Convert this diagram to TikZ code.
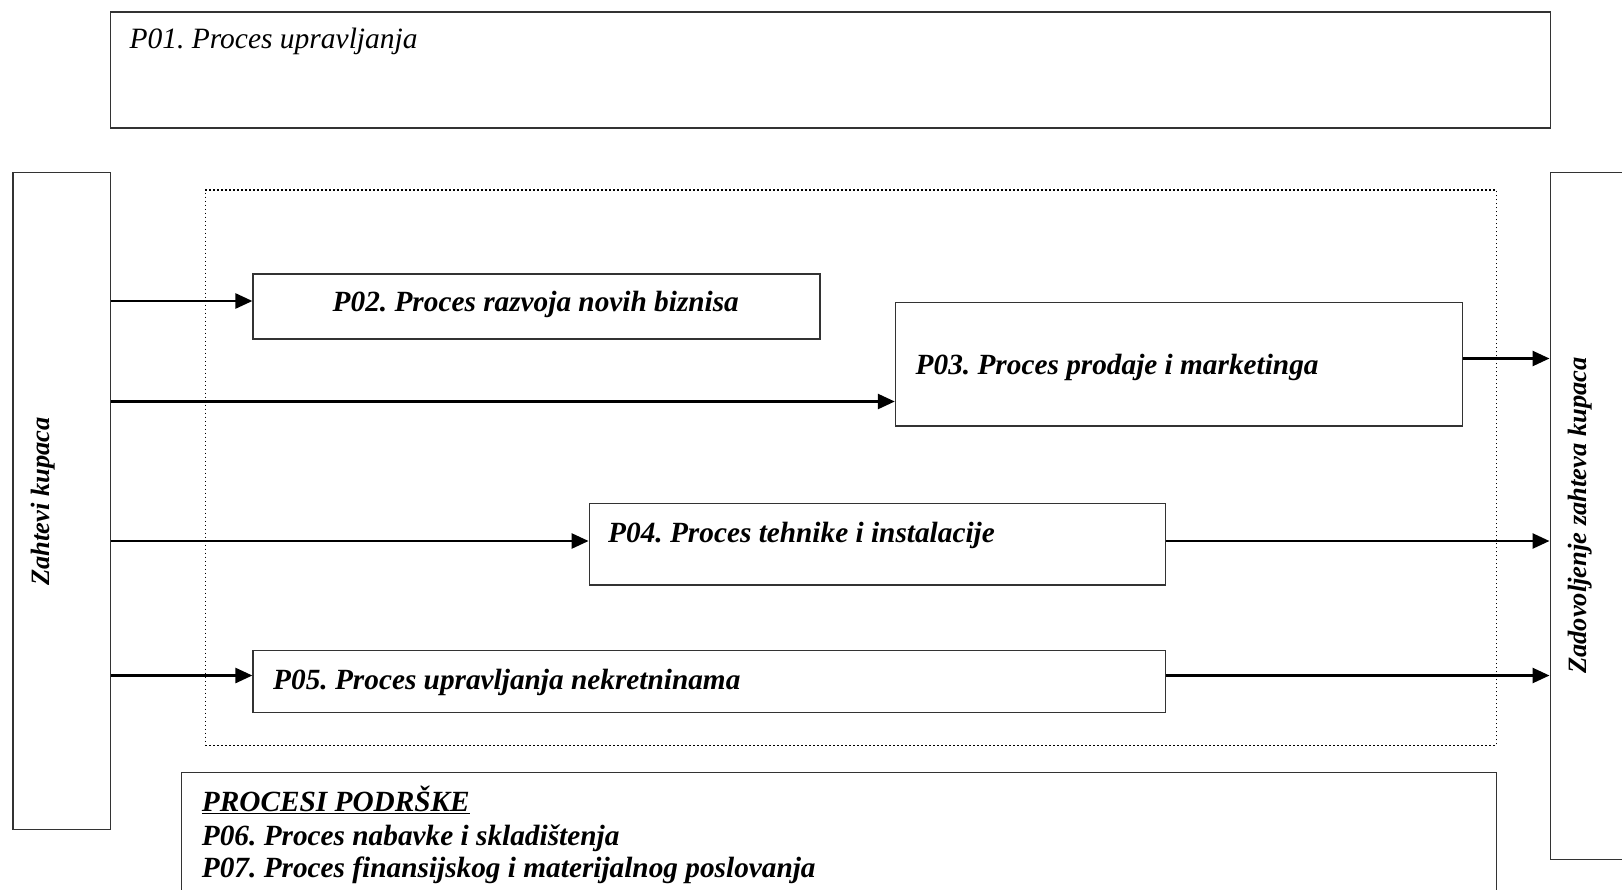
\documentclass[tikz,border=0pt]{standalone}
\usepackage{fontspec}
\setmainfont{Liberation Serif}
\usetikzlibrary{arrows.meta, positioning, calc}
\frenchspacing

\newcommand{\procfont}{\fontsize{29.3}{33}\selectfont\bfseries\itshape}
\newcommand{\sidefont}{\fontsize{26.5}{30}\selectfont\bfseries\itshape}

\begin{document}
\begin{tikzpicture}[x=1pt, y=-1pt,
  pbox/.style={draw=black!80, line width=1.4pt, rectangle, inner sep=0pt, anchor=north west},
  plabel/.style={font=\procfont, inner sep=0pt, anchor=base west},
  sidelabel/.style={font=\sidefont, inner sep=0pt, rotate=90, anchor=base},
  flow/.style={-{Triangle[length=17pt, width=15pt]}, line width=2.6pt},
]
  \useasboundingbox (0,0) rectangle (1622,889);
  \clip (0,0) rectangle (1622,889);

  % management process on top
  \node[pbox, minimum width=1440pt, minimum height=115.8pt] (p01) at (109.6,11.4) {};
  \node[plabel, font=\fontsize{29.5}{33}\selectfont\itshape] (p01txt) at (129.3,48.3) {P01. Proces upravljanja};

  % customer side: input and output
  \node[pbox, minimum width=97.2pt, minimum height=656.9pt] (zk) at (12.4,171.7) {};
  \node[sidelabel] (zktxt) at (49.3,501.7) {Zahtevi kupaca};
  \node[pbox, minimum width=200pt, minimum height=686.9pt] (zz) at (1549.5,171.7) {};
  \node[sidelabel] (zztxt) at (1586.7,515.5) {Zadovoljenje zahteva kupaca};

  % core processes
  \node[pbox, draw=black, line width=1.3pt, dash pattern=on 1.3pt off 2.7pt,
        minimum width=1290.9pt, minimum height=555.5pt] (core) at (204.8,189.3) {};

  \node[pbox, minimum width=566.8pt, minimum height=65.1pt] (p02) at (252.4,273.1) {};
  \node[plabel, anchor=base] (p02txt) at (535.8,311.7) {P02. Proces razvoja novih biznisa};

  \node[pbox, minimum width=566.8pt, minimum height=123.1pt] (p03) at (894.8,302) {};
  \node[plabel] (p03txt) at (915.5,374.5) {P03. Proces prodaje i marketinga};

  \node[pbox, minimum width=576.1pt, minimum height=81.7pt] (p04) at (588.6,502.7) {};
  \node[plabel] (p04txt) at (608,542) {P04. Proces tehnike i instalacije};

  \node[pbox, minimum width=912.3pt, minimum height=62.1pt] (p05) at (252.4,649.6) {};
  \node[plabel] (p05txt) at (273,689.6) {P05. Proces upravljanja nekretninama};

  % support processes
  \node[pbox, minimum width=1314.7pt, minimum height=200pt] (sup) at (181,771.7) {};
  \node[plabel] (sup0) at (201.7,811.7) {\underline{PROCESI PODRŠKE}};
  \node[plabel] (sup1) at (201.7,845) {P06. Proces nabavke i skladištenja};
  \node[plabel] (sup2) at (201.7,877.3) {P07. Proces finansijskog i materijalnog poslovanja};

  % flows
  \draw[flow] (zk.east |- 0,301) -- (p02.west |- 0,301);
  \draw[flow] (zk.east |- 0,401.5) -- (p03.west |- 0,401.5);
  \draw[flow] (zk.east |- 0,541) -- (p04.west |- 0,541);
  \draw[flow] (zk.east |- 0,675.5) -- (p05.west |- 0,675.5);
  \draw[flow] (p03.east |- 0,358.5) -- (zz.west |- 0,358.5);
  \draw[flow] (p04.east |- 0,541) -- (zz.west |- 0,541);
  \draw[flow] (p05.east |- 0,675.5) -- (zz.west |- 0,675.5);
\end{tikzpicture}
\end{document}
